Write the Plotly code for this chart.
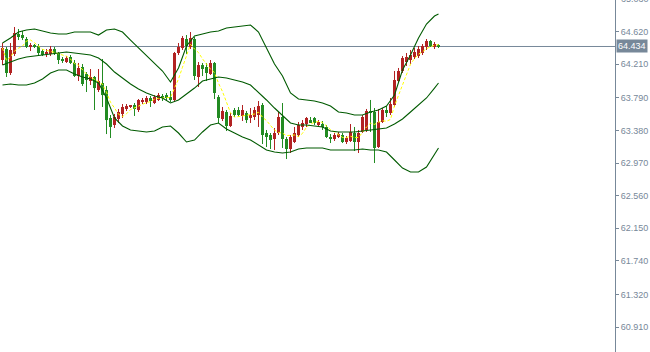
import numpy as np
import pandas as pd
import plotly.graph_objects as go

# ---------------- data ----------------
open_ = [64.264, 64.402, 64.101, 64.340, 64.591, 64.578, 64.528, 64.428, 64.440, 64.440,
         64.377, 64.340, 64.340, 64.402, 64.352, 64.277, 64.239, 64.302, 64.227, 64.063,
         64.176, 64.088, 64.000, 64.051, 63.887, 63.975, 63.887, 63.536, 63.448, 63.523,
         63.586, 63.661, 63.678, 63.699, 63.636, 63.737, 63.737, 63.787, 63.724, 63.762,
         63.812, 63.824, 63.799, 63.762, 64.352, 64.415, 64.528, 64.428, 64.528, 64.051,
         64.201, 64.176, 64.088, 64.227, 63.799, 63.523, 63.611, 63.435, 63.636, 63.636,
         63.561, 63.598, 63.536, 63.548, 63.573, 63.699, 63.347, 63.322, 63.272, 63.347,
         63.548, 63.272, 63.146, 63.234, 63.322, 63.423, 63.460, 63.510, 63.536, 63.448,
         63.460, 63.423, 63.297, 63.272, 63.297, 63.322, 63.234, 63.247, 63.347, 63.234,
         63.360, 63.385, 63.624, 63.611, 63.171, 63.485, 63.636, 63.598, 63.699, 64.000,
         64.126, 64.239, 64.264, 64.302, 64.314, 64.352, 64.428, 64.503, 64.440, 64.447]
high = [64.478, 64.428, 64.478, 64.679, 64.654, 64.629, 64.553, 64.478, 64.465, 64.465,
        64.402, 64.402, 64.440, 64.428, 64.365, 64.302, 64.314, 64.327, 64.264, 64.227,
        64.214, 64.113, 64.151, 64.063, 64.151, 64.277, 63.938, 63.573, 63.586, 63.649,
        63.711, 63.711, 63.699, 63.724, 63.774, 63.787, 63.812, 63.812, 63.824, 63.850,
        63.837, 63.850, 63.875, 64.365, 64.478, 64.566, 64.578, 64.616, 64.553, 64.239,
        64.227, 64.227, 64.264, 64.239, 63.824, 63.674, 63.636, 63.598, 63.661, 63.674,
        63.699, 63.624, 63.661, 63.674, 63.749, 63.724, 63.385, 63.347, 63.410, 63.611,
        63.724, 63.297, 63.322, 63.423, 63.485, 63.510, 63.548, 63.548, 63.548, 63.510,
        63.498, 63.448, 63.334, 63.347, 63.360, 63.347, 63.309, 63.460, 63.423, 63.385,
        63.573, 63.649, 63.762, 63.661, 63.649, 63.661, 63.686, 63.787, 64.126, 64.164,
        64.314, 64.352, 64.390, 64.415, 64.440, 64.465, 64.528, 64.515, 64.490, 64.465]
low = [64.201, 64.051, 64.076, 64.314, 64.515, 64.515, 64.415, 64.377, 64.415, 64.327,
       64.314, 64.302, 64.314, 64.327, 64.214, 64.227, 64.227, 64.214, 64.051, 64.000,
       63.938, 63.862, 63.950, 63.636, 63.862, 63.674, 63.334, 63.284, 63.410, 63.473,
       63.536, 63.624, 63.661, 63.561, 63.611, 63.711, 63.711, 63.674, 63.711, 63.749,
       63.749, 63.749, 63.737, 63.737, 64.327, 64.390, 64.340, 64.402, 64.013, 63.925,
       64.063, 64.000, 64.076, 63.774, 63.473, 63.498, 63.372, 63.423, 63.548, 63.548,
       63.498, 63.473, 63.473, 63.510, 63.423, 63.209, 63.171, 63.146, 63.134, 63.322,
       63.159, 63.020, 63.096, 63.221, 63.297, 63.385, 63.423, 63.473, 63.448, 63.423,
       63.385, 63.284, 63.221, 63.247, 63.284, 63.221, 63.209, 63.234, 63.121, 63.096,
       63.347, 63.360, 63.360, 62.970, 63.159, 63.473, 63.548, 63.573, 63.674, 63.975,
       64.101, 64.189, 64.214, 64.277, 64.289, 64.327, 64.390, 64.428, 64.402, 64.415]
close = [64.415, 64.101, 64.390, 64.603, 64.553, 64.541, 64.428, 64.453, 64.428, 64.352,
         64.327, 64.365, 64.402, 64.352, 64.264, 64.252, 64.289, 64.227, 64.063, 64.164,
         63.963, 64.013, 64.051, 63.912, 64.000, 63.824, 63.510, 63.423, 63.548, 63.611,
         63.674, 63.686, 63.686, 63.649, 63.762, 63.762, 63.787, 63.749, 63.799, 63.824,
         63.799, 63.787, 63.762, 64.352, 64.428, 64.541, 64.440, 64.541, 64.063, 64.201,
         64.151, 64.101, 64.227, 63.850, 63.536, 63.624, 63.435, 63.561, 63.573, 63.573,
         63.636, 63.510, 63.573, 63.636, 63.686, 63.322, 63.297, 63.259, 63.347, 63.548,
         63.272, 63.146, 63.297, 63.347, 63.448, 63.473, 63.536, 63.485, 63.473, 63.485,
         63.423, 63.297, 63.272, 63.322, 63.334, 63.234, 63.284, 63.360, 63.234, 63.347,
         63.548, 63.624, 63.598, 63.159, 63.485, 63.636, 63.598, 63.711, 64.013, 64.126,
         64.289, 64.302, 64.327, 64.365, 64.402, 64.440, 64.503, 64.440, 64.465, 64.434]

band_idx = list(range(0, 109, 2)) + [109]
upper = [64.478, 64.541, 64.616, 64.641, 64.654, 64.629, 64.603, 64.591, 64.591, 64.616,
         64.616, 64.616, 64.578, 64.641, 64.654, 64.616, 64.515, 64.415, 64.327, 64.227,
         64.126, 63.988, 64.164, 64.440, 64.566, 64.591, 64.616, 64.629, 64.666, 64.679,
         64.691, 64.704, 64.616, 64.415, 64.214, 64.063, 63.850, 63.774, 63.762, 63.749,
         63.724, 63.686, 63.611, 63.598, 63.573, 63.573, 63.611, 63.636, 63.686, 63.824,
         64.139, 64.327, 64.541, 64.716, 64.817, 64.842]
middle = [64.201, 64.239, 64.277, 64.302, 64.314, 64.327, 64.340, 64.352, 64.365, 64.352,
          64.340, 64.327, 64.289, 64.214, 64.113, 64.038, 63.963, 63.900, 63.850, 63.812,
          63.787, 63.724, 63.762, 63.837, 63.912, 64.000, 64.026, 64.051, 64.038, 64.013,
          63.988, 63.950, 63.862, 63.762, 63.661, 63.573, 63.473, 63.448, 63.448, 63.435,
          63.423, 63.372, 63.360, 63.360, 63.360, 63.372, 63.385, 63.397, 63.410, 63.460,
          63.523, 63.611, 63.699, 63.787, 63.912, 63.975]
lower = [63.950, 63.963, 63.950, 63.950, 63.975, 64.026, 64.101, 64.139, 64.139, 64.088,
         64.051, 64.026, 63.975, 63.787, 63.536, 63.435, 63.385, 63.372, 63.360, 63.372,
         63.423, 63.435, 63.347, 63.234, 63.259, 63.360, 63.448, 63.473, 63.397, 63.347,
         63.297, 63.259, 63.196, 63.134, 63.108, 63.096, 63.108, 63.146, 63.159, 63.159,
         63.159, 63.134, 63.134, 63.134, 63.134, 63.146, 63.134, 63.134, 63.108, 63.008,
         62.907, 62.857, 62.857, 62.920, 63.071, 63.159]

tick_vals = [64.620, 64.210, 63.790, 63.380, 62.970, 62.560, 62.150, 61.740, 61.320, 60.910]
top_label = 65.030
last_price = 64.434
ma_period = 5

# ---------------- styling ----------------
RED = "#b22222"
GREEN = "#228b22"
BAND = "#005a00"
YELLOW = "#ffff00"
AXIS = "#778899"
FONT = "Tahoma, Liberation Sans, Arial, sans-serif"
Y_RANGE = [60.596, 65.018]

o = np.array(open_); h = np.array(high); l = np.array(low); c = np.array(close)
idx = np.arange(len(c))
up = c >= o
base = np.minimum(o, c)
body = np.maximum(np.abs(c - o), 0.013)

fig = go.Figure()

for mask, col in ((up, RED), (~up, GREEN)):
    xs, ys = [], []
    for i in idx[mask]:
        xs += [i, i, None]
        ys += [l[i], h[i], None]
    fig.add_trace(go.Scatter(x=xs, y=ys, mode="lines", line=dict(color=col, width=1),
                             hoverinfo="skip"))
    fig.add_trace(go.Bar(x=idx[mask], y=body[mask], base=base[mask], width=0.75,
                         marker=dict(color=col, line=dict(width=0))))

ma = pd.Series(close).rolling(ma_period, min_periods=1).mean()
fig.add_trace(go.Scatter(x=idx, y=ma, mode="lines",
                         line=dict(color=YELLOW, width=1, dash="3px,2px")))

for band in (upper, middle, lower):
    fig.add_trace(go.Scatter(x=band_idx, y=band, mode="lines",
                             line=dict(color=BAND, width=1.1)))

fig.add_shape(type="line", xref="paper", x0=0, x1=1, yref="y", y0=last_price, y1=last_price,
              line=dict(color=AXIS, width=1), layer="below")

fig.add_annotation(xref="paper", x=1, yref="y", y=last_price, xanchor="left", yanchor="middle",
                   text=f"{last_price:.3f}", showarrow=False, xshift=1,
                   bgcolor=AXIS, borderpad=1, font=dict(family=FONT, size=9, color="white"))
# tick label just above the visible range, drawn partly cut off at the top edge
top_frac = (top_label - Y_RANGE[0]) / (Y_RANGE[1] - Y_RANGE[0])
fig.add_annotation(xref="paper", x=1, yref="paper", y=top_frac, xanchor="left", yanchor="middle",
                   text=f"{top_label:.3f}", showarrow=False, xshift=4,
                   font=dict(family=FONT, size=9, color=AXIS))

x0 = -0.625
fig.update_layout(
    width=650, height=352,
    margin=dict(l=0, r=35, t=0, b=0),
    paper_bgcolor="white", plot_bgcolor="white",
    showlegend=False, barmode="overlay",
    xaxis=dict(visible=False, range=[x0, x0 + 615 / 4], fixedrange=True),
    yaxis=dict(side="right", range=Y_RANGE, tickvals=tick_vals,
               ticktext=[f"{v:.3f}" for v in tick_vals],
               showgrid=False, zeroline=False, showline=True, linecolor=AXIS, linewidth=1,
               ticks="outside", ticklen=3, tickcolor=AXIS,
               tickfont=dict(family=FONT, size=9, color=AXIS)),
)

fig.write_html("out.html")
